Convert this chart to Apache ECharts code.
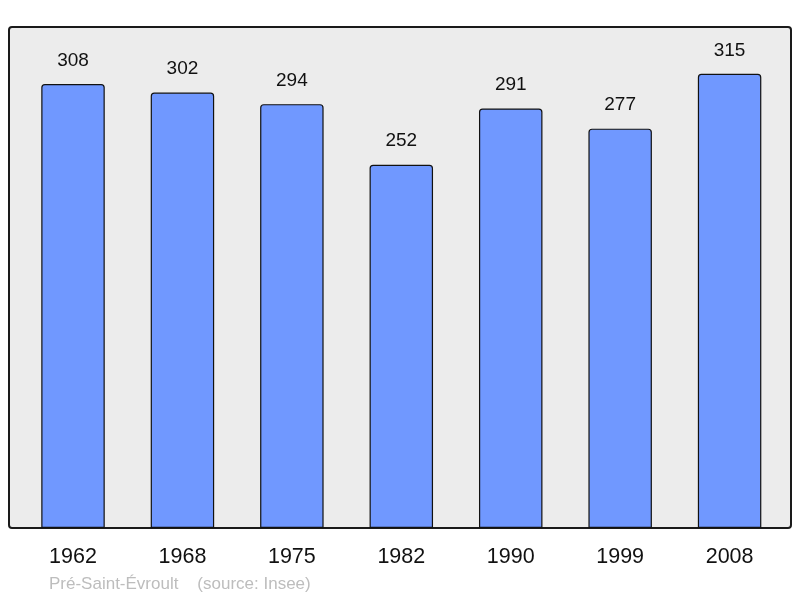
<!DOCTYPE html>
<html><head><meta charset="utf-8">
<script src="https://cdn.jsdelivr.net/npm/echarts@6/dist/echarts.min.js"></script>
<style>html,body{margin:0;padding:0;background:#fff}#c{width:800px;height:598px}</style>
</head><body><div id="c"></div>
<script>
const categories = ['1962','1968','1975','1982','1990','1999','2008'];
const population = [308, 302, 294, 252, 291, 277, 315];
const footer = 'Pré-Saint-Évroult    (source: Insee)';

const chart = echarts.init(document.getElementById('c'), null, {renderer:'canvas'});
chart.setOption({
  animation:false,
  backgroundColor:'#ffffff',
  graphic:[
    {type:'rect', z:-10, shape:{x:9,y:27,width:782,height:501,r:3},
     style:{fill:'#ececec', stroke:'#1a1a1a', lineWidth:2}},
    {type:'text', left:49, top:576, style:{text:footer, fill:'#bdbdbd', font:'17px "Liberation Sans", Arial, sans-serif'}}
  ],
  grid:{left:18.3, top:27, width:766, height:501, containLabel:false},
  xAxis:{type:'category', data:categories,
    axisLine:{show:false}, axisTick:{show:false},
    axisLabel:{color:'#111', fontSize:21.5, margin:18, fontFamily:'"Liberation Sans", Arial, sans-serif'}},
  yAxis:{type:'value', min:0, max:347.5, show:false, splitLine:{show:false}},
  series:[{type:'bar', data:population, barWidth:'58%',
    itemStyle:{color:'#7098ff', borderColor:'#111', borderWidth:1.2, borderRadius:[3,3,0,0]},
    label:{show:true, position:'top', distance:14, color:'#111', fontSize:19,
      fontFamily:'"Liberation Sans", Arial, sans-serif'}}]
});
</script></body></html>
